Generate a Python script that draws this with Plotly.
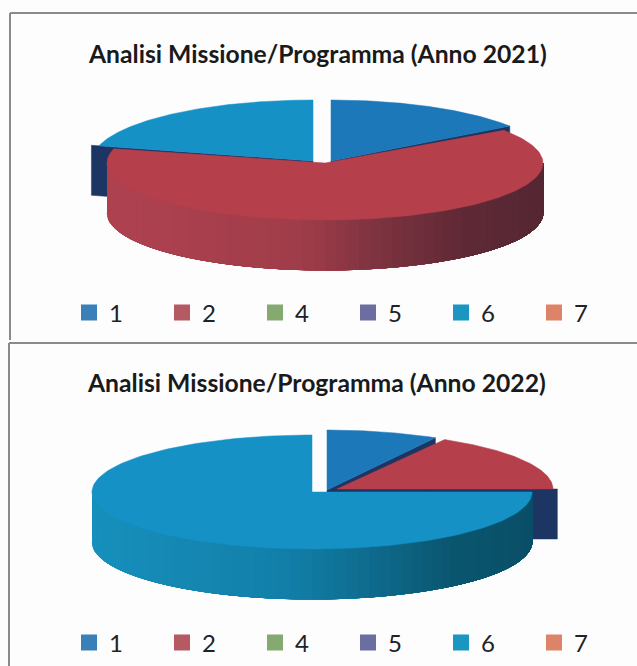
import numpy as np
import plotly.graph_objects as go

W, H = 637, 666

# ---- data ----
labels = ["1", "2", "4", "5", "6", "7"]
values_2021 = [15.3, 63.7, 0, 0, 21.0, 0]
values_2022 = [8.2, 16.8, 0, 0, 75.0, 0]
title_2021 = "Analisi Missione/Programma (Anno 2021)"
title_2022 = "Analisi Missione/Programma (Anno 2022)"

# ---- styles ----
legend_colors = ["#3a80b8", "#b55a62", "#85aa70", "#6c6da0", "#1b96c0", "#dd8468"]
top_colors = {"1": "#1c78b8", "2": "#b63f4c", "6": "#1591c6"}
cut_color = "#1c3563"
wall_stops = {
    "2": [(0.0, "#b04250"), (0.45, "#a03d4a"), (0.62, "#7e3340"), (0.82, "#5f2a36"), (1.0, "#552733")],
    "6": [(0.0, "#1790bd"), (0.45, "#127fa8"), (0.62, "#0f6d90"), (0.82, "#0b566f"), (1.0, "#0a4f68")],
}
DEPTH = 50

# per-slice placement of each pie (exploded centres), pixels in the axis space
pie_2021 = {
    "1": dict(cx=331, cy=161, rx=218, ry=61),
    "2": dict(cx=325, cy=163, rx=218, ry=57),
    "6": dict(cx=313, cy=161, rx=221, ry=61),
}
pie_2022 = {
    "1": dict(cx=327, cy=490, rx=220, ry=60),
    "2": dict(cx=337, cy=489, rx=216, ry=57),
    "6": dict(cx=312, cy=492, rx=220, ry=57),
}
# which cut faces are drawn: (slice, edge, radius factor)
cuts_2021 = [("6", "start", 1.035), ("1", "end", 1.0)]
cuts_2022 = [("2", "end", 1.02), ("1", "end", 1.0)]
order_2021 = ["1", "6", "2"]
order_2022 = ["1", "2", "6"]


def hex_rgb(c):
    return np.array([int(c[i:i + 2], 16) for i in (1, 3, 5)], float)


def shade(stops, f):
    for (f0, c0), (f1, c1) in zip(stops, stops[1:]):
        if f <= f1:
            t = (f - f0) / (f1 - f0)
            r = hex_rgb(c0) * (1 - t) + hex_rgb(c1) * t
            return "rgb(%d,%d,%d)" % tuple(r)
    return stops[-1][1]


def angles(values):
    total = sum(values)
    edges = np.cumsum([0] + list(values)) / total * 2 * np.pi
    return {lab: (edges[i], edges[i + 1]) for i, lab in enumerate(labels)}


def rim(g, th, k=1.0):
    return g["cx"] + g["rx"] * k * np.sin(th), g["cy"] - g["ry"] * k * np.cos(th)


def poly(fig, xs, ys, color, name):
    fig.add_trace(go.Scatter(x=xs, y=ys, mode="lines", fill="toself", fillcolor=color,
                             line=dict(width=0.5, color=color), name=name,
                             showlegend=False, hoverinfo="name"))


def draw_pie(fig, values, geom, cuts, order):
    ang = angles(values)
    for lab, edge, k in cuts:
        g = geom[lab]
        th = ang[lab][1] if edge == "end" else ang[lab][0]
        x, y = rim(g, th, k)
        poly(fig, [g["cx"], x, x, g["cx"], g["cx"]],
             [g["cy"], y, y + DEPTH, g["cy"] + DEPTH, g["cy"]], cut_color, lab)
    for lab in order:
        g = geom[lab]
        a, b = ang[lab]
        lo, hi = max(a, np.pi / 2), min(b, 3 * np.pi / 2)
        if lab in wall_stops and lo < hi:
            n = 60
            th = np.linspace(hi, lo, n + 1)  # right-hand strips are painted over left-hand ones
            for i in range(n):
                seg = np.linspace(th[i], lo, 60)
                x, y = rim(g, seg)
                xm = rim(g, (th[i] + th[i + 1]) / 2)[0]
                f = (xm - (g["cx"] - g["rx"])) / (2 * g["rx"])
                poly(fig, list(x) + list(x[::-1]), list(y) + list((y + DEPTH)[::-1]),
                     shade(wall_stops[lab], f), lab)
        th = np.linspace(a, b, 160)
        x, y = rim(g, th)
        poly(fig, [g["cx"]] + list(x) + [g["cx"]], [g["cy"]] + list(y) + [g["cy"]], top_colors[lab], lab)


fig = go.Figure()
draw_pie(fig, values_2021, pie_2021, cuts_2021, order_2021)
draw_pie(fig, values_2022, pie_2022, cuts_2022, order_2022)

for legend_id in ("legend", "legend2"):
    for lab, col in zip(labels, legend_colors):
        fig.add_trace(go.Scatter(x=[None], y=[None], mode="markers", name=lab, legend=legend_id,
                                 marker=dict(symbol="square", size=16, color=col)))

legend_style = dict(orientation="h", xanchor="left", yanchor="middle", x=69 / W,
                    entrywidth=48, entrywidthmode="pixels", itemwidth=30,
                    bgcolor="rgba(0,0,0,0)", borderwidth=0,
                    font=dict(family="Lato", size=24, color="#222222"))

line = dict(color="#8a8a8a", width=2)
shapes = [
    dict(type="line", x0=10, x1=W, y0=13, y1=13, line=line),
    dict(type="line", x0=10, x1=10, y0=13, y1=340, line=line),
    dict(type="line", x0=9, x1=W, y0=343, y1=343, line=line),
    dict(type="line", x0=9, x1=9, y0=343, y1=H, line=line),
]
title_font = dict(family="Lato", size=24.7, color="#1a1a1a", weight="bold")
annotations = [
    dict(x=317, y=53, text=title_2021, showarrow=False, xref="x", yref="y", font=title_font),
    dict(x=316, y=382, text=title_2022, showarrow=False, xref="x", yref="y", font=title_font),
]

fig.update_layout(
    width=W, height=H, autosize=False, margin=dict(l=0, r=0, t=0, b=0),
    paper_bgcolor="#fdfdfd", plot_bgcolor="#fdfdfd",
    xaxis=dict(range=[0, W], visible=False, fixedrange=True),
    yaxis=dict(range=[H, 0], visible=False, fixedrange=True),
    legend=dict(y=1 - 313 / H, **legend_style),
    legend2=dict(y=1 - 643 / H, **legend_style),
    shapes=shapes, annotations=annotations, showlegend=True,
)
fig.write_html("out.html", config=dict(displayModeBar=False),
               post_script="document.body.style.margin='0';document.body.style.overflow='hidden';"
                           "document.documentElement.style.overflow='hidden';")
